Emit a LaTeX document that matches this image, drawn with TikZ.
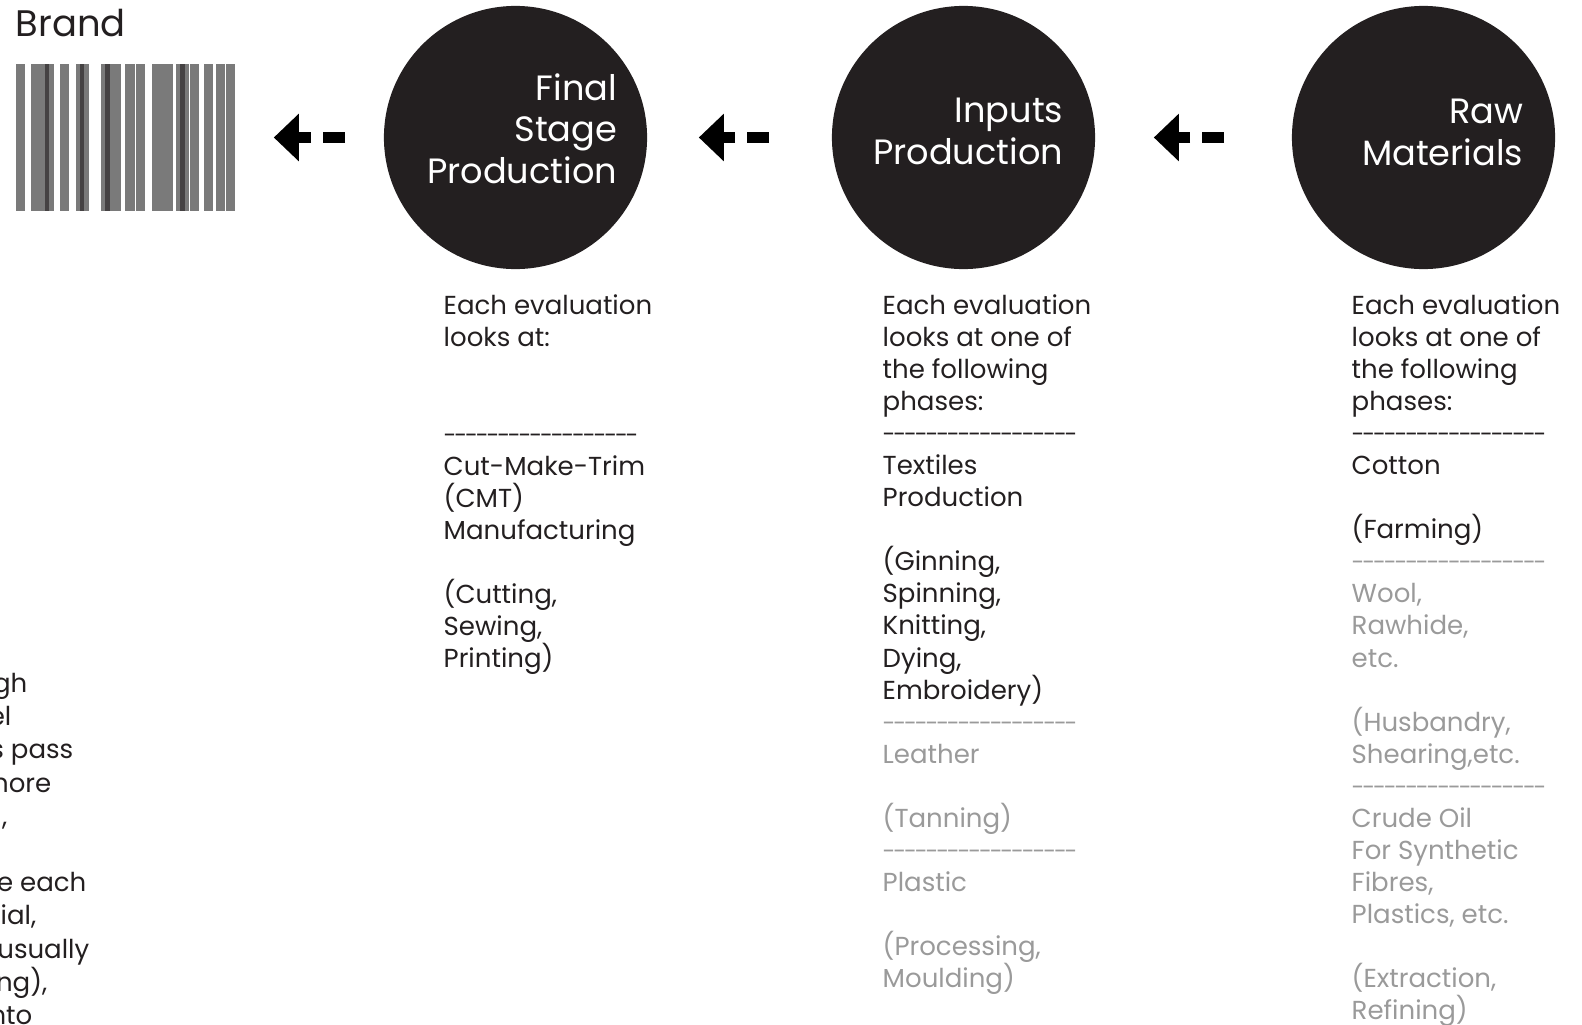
\documentclass[tikz,border=0pt]{standalone}
\usepackage{fontspec}
\setmainfont{Poppins}
\usetikzlibrary{arrows.meta}

\definecolor{ink}{HTML}{231F20}
\definecolor{faint}{HTML}{9A9A9A}
\definecolor{barlight}{HTML}{7A7A7A}
\definecolor{bardark}{HTML}{454243}

\newcommand{\faded}[1]{\textcolor{faint}{#1}}
\newcommand{\sepline}{{\fontsize{6.6}{9.1}\selectfont\foreach\n in {1,...,18}{\makebox[0.107cm][l]{-}}}}

\begin{document}
\begin{tikzpicture}[x=0.01cm, y=-0.01cm,
  stage/.style={circle, fill=ink, inner sep=0pt, minimum size=2.63cm},
  title/.style={text=white, align=right, anchor=base east, inner sep=0pt,
    font=\fontsize{10}{11.8}\selectfont},
  notes/.style={text=ink, align=left, anchor=base west, inner sep=0pt,
    font=\fontsize{7.4}{9.1}\selectfont},
  flow/.style={black, line width=0.11cm,
    dash pattern=on 0.22cm off 0.12cm on 2cm off 0.1cm,
    -{Triangle[length=0.25cm,width=0.46cm]}},
]
\useasboundingbox (0,0) rectangle (1582,1024);

% brand and its barcode
\node[anchor=base west, inner sep=0pt, text=ink,
  font=\fontsize{10.5}{12}\selectfont] (brand) at (15,36) {Brand};
\foreach \a/\b in {16/25, 31/54, 60/69, 76/89, 101/121, 125/134.7, 136/145,
                   152/173, 176/188.7, 190/199, 204/213, 216/225, 226/235}
  \fill[barlight] (\a,64) rectangle (\b,211);
\foreach \a/\b in {45/49, 80/84, 105/110, 180/185}
  \fill[bardark] (\a,64) rectangle (\b,211);
\node[minimum width=2.19cm, minimum height=1.47cm, inner sep=0pt] (code) at (125.5,137.5) {};

% the three stages (a node's base is its last line)
\node[stage] (fsp) at (515.5,137.5) {};
\node[stage] (inp) at (963.5,137.5) {};
\node[stage] (raw) at (1423.5,137.5) {};
\node[title] (fsptitle) at (618,183) {Final\\Stage\\Production};
\node[title] (inptitle) at (1064,164) {Inputs\\Production};
\node[title] (rawtitle) at (1524,165) {Raw\\Materials};

\draw[flow, shorten <=0.38cm, shorten >=0.38cm] (fsp) -- (code);
\draw[flow, shorten <=0.62cm, shorten >=0.51cm] (inp) -- (fsp);
\draw[flow, shorten <=0.67cm, shorten >=0.58cm] (raw) -- (inp);

% notes under each stage
\node[notes] (fspnotes) at (443,667) {Each evaluation\\looks at:\\\mbox{}\\\mbox{}\\\sepline\\
  Cut-Make-Trim\\(CMT)\\Manufacturing\\\mbox{}\\(Cutting,\\Sewing,\\Printing)};
\node[notes] (inpnotes) at (882,987) {Each evaluation\\looks at one of\\the following\\phases:\\\sepline\\
  Textiles\\Production\\\mbox{}\\(Ginning,\\Spinning,\\Knitting,\\Dying,\\Embroidery)\\
  \faded{\sepline}\\\faded{Leather}\\\mbox{}\\\faded{(Tanning)}\\\faded{\sepline}\\
  \faded{Plastic}\\\mbox{}\\\faded{(Processing,}\\\faded{Moulding)}};
\node[notes] (rawnotes) at (1351,1019) {Each evaluation\\looks at one of\\the following\\phases:\\\sepline\\
  Cotton\\\mbox{}\\(Farming)\\\faded{\sepline}\\\faded{Wool,}\\\faded{Rawhide,}\\\faded{etc.}\\\mbox{}\\
  \faded{(Husbandry,}\\\faded{Shearing,etc.}\\\faded{\sepline}\\\faded{Crude Oil}\\
  \faded{For Synthetic}\\\faded{Fibres,}\\\faded{Plastics, etc.}\\\mbox{}\\
  \faded{(Extraction,}\\\faded{Refining)}};

% text running in from the left edge
\foreach \t/\xr/\yb in {gh/28/692, el/12/725, s pass/74/758, nore/52/792, {l,}/8/825,
                        te each/87/891, {rial,}/37/924, usually/90/958, {ng),}/48/991, nto/33/1024}
  \node[notes, anchor=base east] at (\xr,\yb) {\t};
\end{tikzpicture}
\end{document}
